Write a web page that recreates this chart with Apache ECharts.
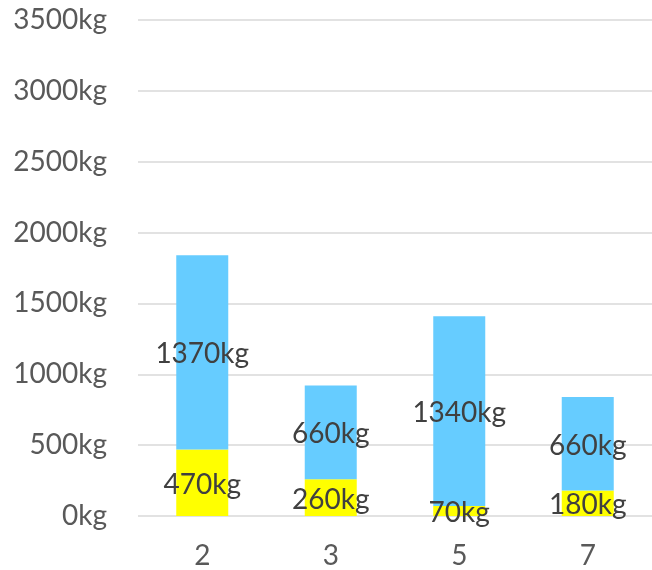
<!DOCTYPE html>
<html>
<head>
<meta charset="utf-8">
<script src="https://cdn.jsdelivr.net/npm/echarts@6/dist/echarts.min.js"></script>
<style>
  html, body { margin: 0; padding: 0; background: #fff; }
  #chart { width: 652px; height: 570px; }
</style>
</head>
<body>
<div id="chart"></div>
<script>
// Categories along the x axis
const categories = ['2', '3', '5', '7'];
// Lower (yellow) segment of each stacked bar, in kg
const lowerValues = [470, 260, 70, 180];
// Upper (blue) segment of each stacked bar, in kg
const upperValues = [1370, 660, 1340, 660];

const FONT = 'Lato, "Open Sans", sans-serif';
const FONT_SIZE = 28;

const labelStyle = {
  show: true,
  position: 'inside',
  formatter: p => p.value + 'kg',
  color: '#404040',
  fontSize: FONT_SIZE,
  fontFamily: FONT,
  offset: [0, 2]
};

const chart = echarts.init(document.getElementById('chart'));
chart.setOption({
  animation: false,
  grid: { left: 138, width: 516, top: 20, bottom: 54, containLabel: false },
  xAxis: {
    type: 'category',
    data: categories,
    axisLine: { show: false },
    axisTick: { show: false },
    axisLabel: { color: '#595959', fontSize: FONT_SIZE, fontFamily: FONT, margin: 26 }
  },
  yAxis: {
    type: 'value',
    min: 0,
    max: 3500,
    interval: 500,
    axisLine: { show: false },
    axisTick: { show: false },
    splitLine: { lineStyle: { color: '#d9d9d9', width: 1.5 } },
    axisLabel: {
      color: '#595959', fontSize: FONT_SIZE, fontFamily: FONT, margin: 31,
      formatter: v => v + 'kg'
    }
  },
  series: [
    {
      type: 'bar',
      stack: 'total',
      data: lowerValues,
      barWidth: 52,
      itemStyle: { color: '#FFFF00' },
      label: labelStyle
    },
    {
      type: 'bar',
      stack: 'total',
      data: upperValues,
      barWidth: 52,
      itemStyle: { color: '#66CCFF' },
      label: labelStyle
    }
  ]
});
</script>
</body>
</html>
